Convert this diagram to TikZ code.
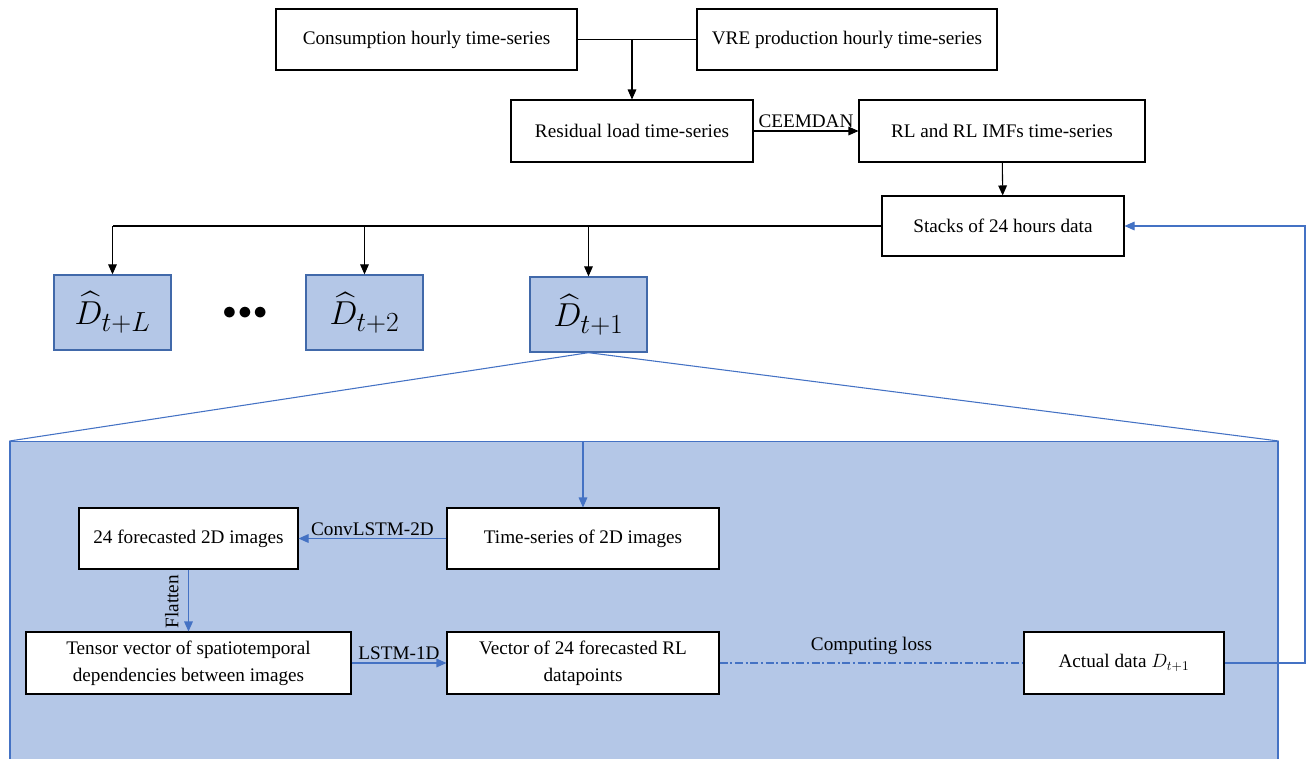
\documentclass[tikz,border=0pt]{standalone}
\usepackage{amsmath}
\usepackage{fontspec}
\setmainfont{Liberation Serif}
\usepackage{xcolor}
\usetikzlibrary{positioning,arrows.meta}
\definecolor{panelblue}{RGB}{180,199,231}
\definecolor{lineblue}{RGB}{68,114,196}
\definecolor{hatedge}{RGB}{65,105,170}
\tikzset{
  stepbox/.style={draw, fill=white, line width=0.8pt, inner sep=0pt, align=center,
    font=\fontsize{14.4}{20}\selectfont},
  hatbox/.style={draw=hatedge, fill=panelblue, line width=1pt, inner sep=0pt,
    minimum width=87.75pt, minimum height=56.25pt, font=\fontsize{28}{32}\selectfont},
  lbl/.style={font=\fontsize{14.4}{17}\selectfont, inner sep=2pt, text=black},
  arr/.style={-{Triangle[length=7.5pt,width=6.5pt]}, line width=0.8pt},
  bluearr/.style={-{Triangle[length=7.5pt,width=6.5pt]}, line width=0.8pt, color=lineblue},
}
\begin{document}
\begin{tikzpicture}[x=0.75pt,y=0.75pt,yscale=-1,xscale=1]
\useasboundingbox (0,0) rectangle (1311,758);

% Zoomed panel
\node (panel) [fill=panelblue, draw=lineblue, line width=0.8pt, minimum width=951pt, minimum height=250pt, anchor=north] at (644,441) {};

% Input series
\node (cons) [stepbox, minimum width=225.75pt, minimum height=45.75pt] at (426.5,39.5) {Consumption hourly time-series};
\node (vre) [stepbox, minimum width=225pt, minimum height=45.75pt] at (847,39.5) {VRE production hourly time-series};
\node (resid) [stepbox, minimum width=181.5pt, minimum height=46.5pt] at (632,131) {Residual load time-series};
\node (imfs) [stepbox, minimum width=214.5pt, minimum height=46.5pt] at (1002,131) {RL and RL IMFs time-series};
\node (stacks) [stepbox, minimum width=181.5pt, minimum height=45pt] at (1003,226) {Stacks of 24 hours data};

% Forecast horizons
\node (dL) [hatbox] at (112.5,312.5) {$\widehat{D}_{t+L}$};
\node (dots) [font=\fontsize{20}{24}\selectfont] at (245,313) {$\bullet\mkern-3mu\bullet\mkern-3mu\bullet$};
\node (d2) [hatbox] at (364.5,312.5) {$\widehat{D}_{t+2}$};
\node (d1) [hatbox] at (588.5,314.5) {$\widehat{D}_{t+1}$};

% Inside the panel
\node (ts) [stepbox, minimum width=204pt, minimum height=45.75pt] at (583,538.5) {Time-series of 2D images};
\node (fc) [stepbox, minimum width=164.25pt, minimum height=45.75pt] at (188.5,538.5) {24 forecasted 2D images};
\node (tensor) [stepbox, minimum width=243.75pt, minimum height=46.5pt] at (188.5,663) {Tensor vector of spatiotemporal\\dependencies between images};
\node (vec) [stepbox, minimum width=204pt, minimum height=46.5pt] at (583,663) {Vector of 24 forecasted RL\\datapoints};
\node (actual) [stepbox, minimum width=150pt, minimum height=46.5pt] at (1124,663) {Actual data $D_{t+1}$};
\coordinate (back) at (1305,663);

% Connectors
\draw [line width=0.8pt] (cons) -- (vre);
\draw [arr] (cons.east -| resid.north) -- (resid.north);
\draw [arr] (resid) -- node [lbl, above] {CEEMDAN} (imfs);
\draw [arr] (imfs) -- (stacks);
\draw [line width=0.8pt] (stacks.west) -- (stacks.west -| dL.north);
\draw [arr] (stacks.west -| dL.north) -- (dL.north);
\draw [arr] (stacks.west -| d2.north) -- (d2.north);
\draw [arr] (stacks.west -| d1.north) -- (d1.north);

\draw [lineblue, line width=0.8pt] (panel.north west) -- (d1.south) -- (panel.north east);
\draw [bluearr] (panel.north -| ts.north) -- (ts.north);
\draw [bluearr] (ts) -- node [lbl, above] {ConvLSTM-2D} (fc);
\draw [bluearr] (fc) -- node [lbl, rotate=90, anchor=south, inner sep=7pt, pos=0.52] {Flatten} (tensor);
\draw [bluearr] (tensor) -- node [lbl, above] {LSTM-1D} (vec);
\draw [lineblue, line width=0.8pt, dash pattern={on 6pt off 2pt on 1.5pt off 2pt}] (vec) -- node [lbl, above=4pt] {Computing loss} (actual);
\draw [bluearr] (actual.east) -- (back) |- (stacks.east);

\end{tikzpicture}
\end{document}
